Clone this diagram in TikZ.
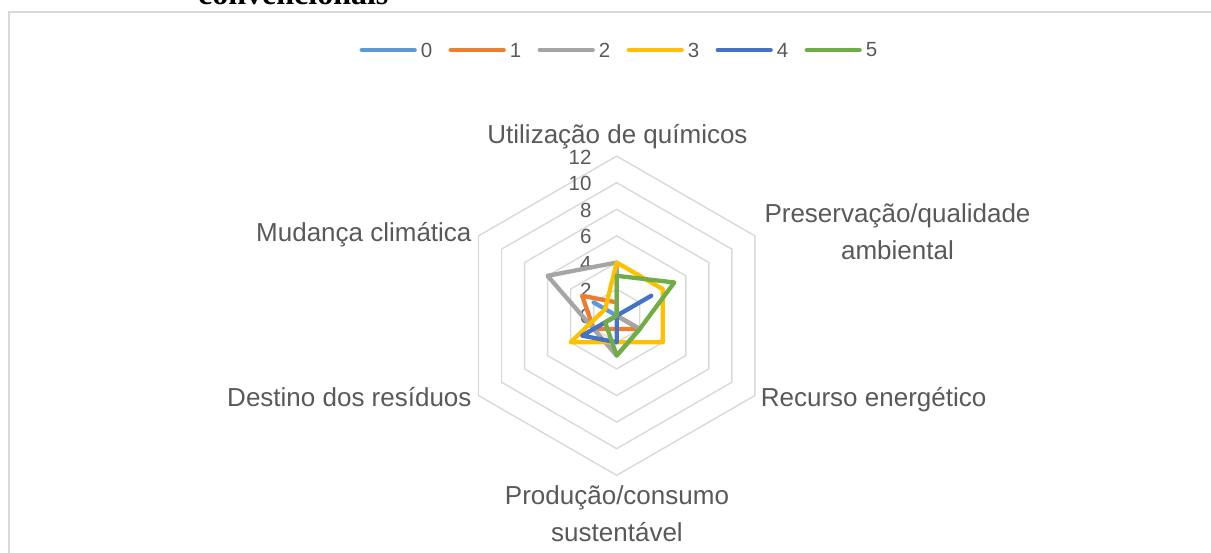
\documentclass[tikz,border=0pt]{standalone}
\usepackage{fontspec}
\setmainfont{Liberation Sans}
\newfontfamily\titlefont{Liberation Serif}
\usepackage{xcolor}
\definecolor{dnluoi}{HTML}{D9D9D9}
\definecolor{dnchu}{HTML}{595959}
\definecolor{dnxanhnhat}{HTML}{5B9BD5}
\definecolor{dncam}{HTML}{ED7D31}
\definecolor{dnxam}{HTML}{A5A5A5}
\definecolor{dnvang}{HTML}{FFC000}
\definecolor{dnxanh}{HTML}{4472C4}
\definecolor{dnluc}{HTML}{70AD47}
\def\mauluoi{dnluoi}
\def\mauchu{dnchu}
\usetikzlibrary{calc}

\begin{document}
\begin{tikzpicture}[x=1pt,y=1pt,declare function ={k=13.3;},
	vong/.style={draw=\mauluoi,line width=1.4pt},
	chuoi/.style={line width=4.3pt,line join=round,line cap=round},
	nhan/.style={text=\mauchu,inner sep=0pt,font=\fontsize{26}{37.7}\selectfont},
	so/.style={text=\mauchu,inner sep=0pt,anchor=east,font=\fontsize{20.5}{24}\selectfont},
	chugiai/.style={text=\mauchu,inner sep=0pt,anchor=west,font=\fontsize{20.5}{24}\selectfont}]
		\path (0:0) coordinate (O);
		\useasboundingbox (-616.7,-236.3) rectangle (594.3,315.7);
		\draw[vong,line width=1.7pt] (-607.7,-250) |- (610,303.7);
		\path (-418.7,310.7) node [anchor=base west,inner sep=0pt,font=\titlefont\bfseries\fontsize{32}{36}\selectfont] (tieude) {convencionais};
		% luoi
		\draw[vong] (90:2*k) -- (30:2*k) -- (-30:2*k) -- (-90:2*k) -- (210:2*k) -- (150:2*k) -- cycle;
		\draw[vong] (90:4*k) -- (30:4*k) -- (-30:4*k) -- (-90:4*k) -- (210:4*k) -- (150:4*k) -- cycle;
		\draw[vong] (90:6*k) -- (30:6*k) -- (-30:6*k) -- (-90:6*k) -- (210:6*k) -- (150:6*k) -- cycle;
		\draw[vong] (90:8*k) -- (30:8*k) -- (-30:8*k) -- (-90:8*k) -- (210:8*k) -- (150:8*k) -- cycle;
		\draw[vong] (90:10*k) -- (30:10*k) -- (-30:10*k) -- (-90:10*k) -- (210:10*k) -- (150:10*k) -- cycle;
		\draw[vong] (90:12*k) -- (30:12*k) -- (-30:12*k) -- (-90:12*k) -- (210:12*k) -- (150:12*k) -- cycle;
		\path (-25,-1) node[so] (s0) {0}
		(-25,2*k-1) node[so] (s2) {2}
		(-25,4*k-1) node[so] (s4) {4}
		(-25,6*k-1) node[so] (s6) {6}
		(-25,8*k-1) node[so] (s8) {8}
		(-25,10*k-1) node[so] (s10) {10}
		(-25,12*k-1) node[so] (s12) {12}
		;
		% du lieu
		\draw[chuoi,dnxanhnhat] (90:0*k) -- (30:0*k) -- (-30:0*k) -- (-90:0*k) -- (210:0*k) -- (150:2*k) -- cycle;
		\draw[chuoi,dncam] (90:1*k) -- (30:0*k) -- (-30:2*k) -- (-90:1*k) -- (210:2*k) -- (150:3*k) -- cycle;
		\draw[chuoi,dnxam] (90:4*k) -- (30:0*k) -- (-30:2*k) -- (-90:3*k) -- (210:2*k) -- (150:6*k) -- cycle;
		\draw[chuoi,dnvang] (90:4*k) -- (30:4*k) -- (-30:4*k) -- (-90:2*k) -- (210:4*k) -- (150:1*k) -- cycle;
		\draw[chuoi,dnxanh] (90:0*k) -- (30:3*k) -- (-30:0*k) -- (-90:2*k) -- (210:3*k) -- (150:0*k) -- cycle;
		\draw[chuoi,dnluc] (90:3*k) -- (30:5*k) -- (-30:2*k) -- (-90:3*k) -- (210:1*k) -- (150:0*k) -- cycle;
		% ten truc
		\path (0.8,172.4) node[nhan,anchor=base] (hoachat) {Utilização de químicos}
		(280.8,112.5) node[nhan,anchor=north,align=center] (moitruong) {Preservação/qualidade\\ambiental}
		(144,-91) node[nhan,anchor=base west] (nangluong) {Recurso energético}
		(0.3,-169.5) node[nhan,anchor=north,align=center] (sanxuat) {Produção/consumo\\sustentável}
		(-145,-91) node[nhan,anchor=base east] (chatthai) {Destino dos resíduos}
		(-145,74) node[nhan,anchor=base east] (khihau) {Mudança climática}
		;
		% chu giai
		\draw[chuoi,dnxanhnhat] (-255,265.7) -- (-202,265.7) node[chugiai,xshift=4pt] (cg0) {0};
		\draw[chuoi,dncam] (-166,265.7) -- (-113,265.7) node[chugiai,xshift=4pt] (cg1) {1};
		\draw[chuoi,dnxam] (-77,265.7) -- (-24,265.7) node[chugiai,xshift=4pt] (cg2) {2};
		\draw[chuoi,dnvang] (12,265.7) -- (65,265.7) node[chugiai,xshift=4pt] (cg3) {3};
		\draw[chuoi,dnxanh] (101,265.7) -- (154,265.7) node[chugiai,xshift=4pt] (cg4) {4};
		\draw[chuoi,dnluc] (190,265.7) -- (243,265.7) node[chugiai,xshift=4pt] (cg5) {5};
	\end{tikzpicture}
\end{document}
